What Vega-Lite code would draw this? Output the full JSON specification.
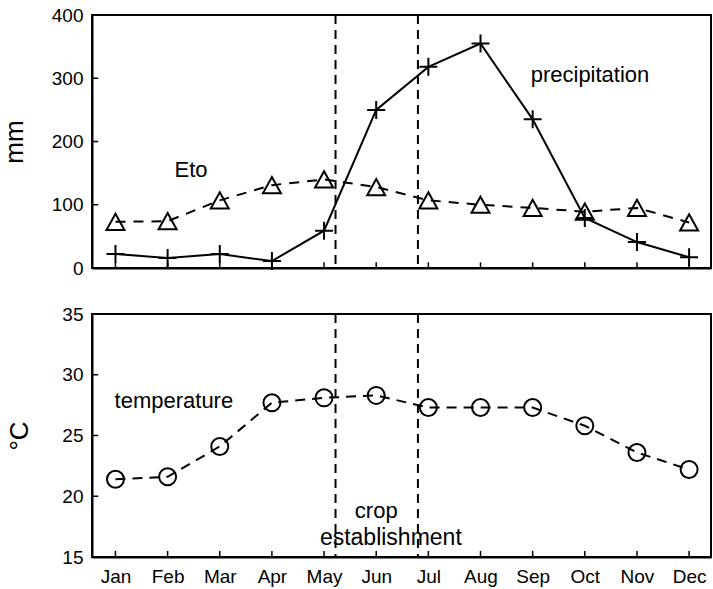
{
  "$schema": "https://vega.github.io/schema/vega-lite/v6.json",
  "background": "white",
  "padding": {"left": 0, "top": 5, "right": 1, "bottom": 0},
  "spacing": 25,
  "datasets": {
    "climate": [
      {"month": 1, "precip": 22, "eto": 73, "temp": 21.4},
      {"month": 2, "precip": 16, "eto": 74, "temp": 21.6},
      {"month": 3, "precip": 22, "eto": 107, "temp": 24.1},
      {"month": 4, "precip": 11, "eto": 131, "temp": 27.7},
      {"month": 5, "precip": 59, "eto": 140, "temp": 28.1},
      {"month": 6, "precip": 250, "eto": 128, "temp": 28.3},
      {"month": 7, "precip": 318, "eto": 107, "temp": 27.3},
      {"month": 8, "precip": 355, "eto": 100, "temp": 27.3},
      {"month": 9, "precip": 235, "eto": 95, "temp": 27.3},
      {"month": 10, "precip": 79, "eto": 89, "temp": 25.8},
      {"month": 11, "precip": 41, "eto": 95, "temp": 23.6},
      {"month": 12, "precip": 17, "eto": 72, "temp": 22.2}
    ],
    "mmTicks": [{"tick": 0}, {"tick": 100}, {"tick": 200}, {"tick": 300}, {"tick": 400}],
    "degTicks": [{"tick": 15}, {"tick": 20}, {"tick": 25}, {"tick": 30}, {"tick": 35}],
    "cropPeriod": [{"edge": 5.22}, {"edge": 6.8}],
    "topNotes": [{"label": "Eto", "m": 2.45, "v": 155}, {"label": "precipitation", "m": 10.1, "v": 305}],
    "bottomNotes": [{"label": "crop", "m": 6.0, "v": 18.8}, {"label": "temperature", "m": 2.12, "v": 27.85}],
    "bottomNotesLeft": [{"label": "establishment", "m": 4.92, "v": 16.6}]
  },
  "vconcat": [
    {
      "width": 619,
      "height": 253,
      "layer": [
        {
          "data": {"name": "cropPeriod"},
          "mark": {"type": "rule", "color": "black", "strokeWidth": 2, "strokeDash": [9, 6]},
          "encoding": {
            "x": {"field": "edge", "type": "quantitative",
              "scale": {"domain": [0.55, 12.42], "nice": false, "zero": false},
              "axis": {"values": [1,2,3,4,5,6,7,8,9,10,11,12], "labels": false, "ticks": false, "title": null, "grid": false}}
          }
        },
        {
          "data": {"name": "climate"},
          "mark": {"type": "rule", "color": "black", "strokeWidth": 1.5},
          "encoding": {
            "x": {"field": "month", "type": "quantitative"},
            "y": {"datum": 0, "type": "quantitative"}, "y2": {"datum": 9}
          }
        },
        {
          "data": {"name": "mmTicks"},
          "mark": {"type": "rule", "color": "black", "strokeWidth": 1.5},
          "encoding": {"x": {"datum": 0.55, "type": "quantitative"}, "x2": {"datum": 0.67}, "y": {"field": "tick", "type": "quantitative"}}
        },
        {
          "data": {"name": "climate"},
          "mark": {"type": "line", "color": "black", "strokeWidth": 2, "strokeDash": [10, 8]},
          "encoding": {
            "x": {"field": "month", "type": "quantitative"},
            "y": {"field": "eto", "type": "quantitative",
              "scale": {"domain": [0, 400], "nice": false},
              "axis": {"values": [0, 100, 200, 300, 400], "title": "mm", "grid": false, "ticks": false, "labelPadding": 9, "titlePadding": 24, "titleFontSize": 26, "titleFontWeight": "normal"}}
          }
        },
        {
          "data": {"name": "climate"},
          "mark": {"type": "point", "shape": "M0,-0.9L1,0.9L-1,0.9Z", "filled": false, "color": "black", "strokeWidth": 2, "size": 324, "opacity": 1},
          "encoding": {"x": {"field": "month", "type": "quantitative"}, "y": {"field": "eto", "type": "quantitative"}}
        },
        {
          "data": {"name": "climate"},
          "mark": {"type": "line", "color": "black", "strokeWidth": 2},
          "encoding": {"x": {"field": "month", "type": "quantitative"}, "y": {"field": "precip", "type": "quantitative"}}
        },
        {
          "data": {"name": "climate"},
          "mark": {"type": "point", "shape": "M-1,0L1,0M0,-1L0,1", "filled": false, "color": "black", "strokeWidth": 2, "size": 324, "opacity": 1},
          "encoding": {"x": {"field": "month", "type": "quantitative"}, "y": {"field": "precip", "type": "quantitative"}}
        },
        {
          "data": {"name": "topNotes"},
          "mark": {"type": "text", "fontSize": 22, "color": "black"},
          "encoding": {
            "x": {"field": "m", "type": "quantitative"},
            "y": {"field": "v", "type": "quantitative"},
            "text": {"field": "label"}
          }
        }
      ]
    },
    {
      "width": 619,
      "height": 243,
      "layer": [
        {
          "data": {"name": "bottomNotes"},
          "mark": {"type": "text", "fontSize": 22, "color": "black"},
          "encoding": {
            "x": {"field": "m", "type": "quantitative",
              "scale": {"domain": [0.55, 12.42], "nice": false, "zero": false},
              "axis": {"values": [1,2,3,4,5,6,7,8,9,10,11,12], "title": null, "grid": false, "ticks": false, "labelPadding": 10,
                "labelExpr": "['Jan','Feb','Mar','Apr','May','Jun','Jul','Aug','Sep','Oct','Nov','Dec'][datum.value - 1]"}},
            "y": {"field": "v", "type": "quantitative",
              "scale": {"domain": [15, 35], "nice": false, "zero": false},
              "axis": {"values": [15, 20, 25, 30, 35], "title": "°C", "grid": false, "ticks": false, "labelPadding": 9, "titlePadding": 29, "titleFontSize": 26, "titleFontWeight": "normal"}},
            "text": {"field": "label"}
          }
        },
        {
          "data": {"name": "bottomNotesLeft"},
          "mark": {"type": "text", "fontSize": 23, "color": "black", "align": "left"},
          "encoding": {
            "x": {"field": "m", "type": "quantitative"},
            "y": {"field": "v", "type": "quantitative"},
            "text": {"field": "label"}
          }
        },
        {
          "data": {"name": "cropPeriod"},
          "mark": {"type": "rule", "color": "black", "strokeWidth": 2, "strokeDash": [9, 6]},
          "encoding": {"x": {"field": "edge", "type": "quantitative"}}
        },
        {
          "data": {"name": "climate"},
          "mark": {"type": "rule", "color": "black", "strokeWidth": 1.5},
          "encoding": {
            "x": {"field": "month", "type": "quantitative"},
            "y": {"datum": 15, "type": "quantitative"}, "y2": {"datum": 15.5}
          }
        },
        {
          "data": {"name": "degTicks"},
          "mark": {"type": "rule", "color": "black", "strokeWidth": 1.5},
          "encoding": {"x": {"datum": 0.55, "type": "quantitative"}, "x2": {"datum": 0.67}, "y": {"field": "tick", "type": "quantitative"}}
        },
        {
          "data": {"name": "climate"},
          "mark": {"type": "line", "color": "black", "strokeWidth": 2, "strokeDash": [10, 7]},
          "encoding": {"x": {"field": "month", "type": "quantitative"}, "y": {"field": "temp", "type": "quantitative"}}
        },
        {
          "data": {"name": "climate"},
          "mark": {"type": "point", "shape": "circle", "filled": false, "color": "black", "strokeWidth": 2, "size": 289, "opacity": 1},
          "encoding": {"x": {"field": "month", "type": "quantitative"}, "y": {"field": "temp", "type": "quantitative"}}
        }
      ]
    }
  ],
  "config": {
    "font": "Liberation Sans",
    "view": {"stroke": "black", "strokeWidth": 2},
    "axis": {
      "domainColor": "black", "domainWidth": 2,
      "tickColor": "black", "tickWidth": 1.5,
      "labelColor": "black", "labelFontSize": 19, "labelFont": "Liberation Sans",
      "titleColor": "black", "titleFont": "Liberation Sans"
    }
  }
}
